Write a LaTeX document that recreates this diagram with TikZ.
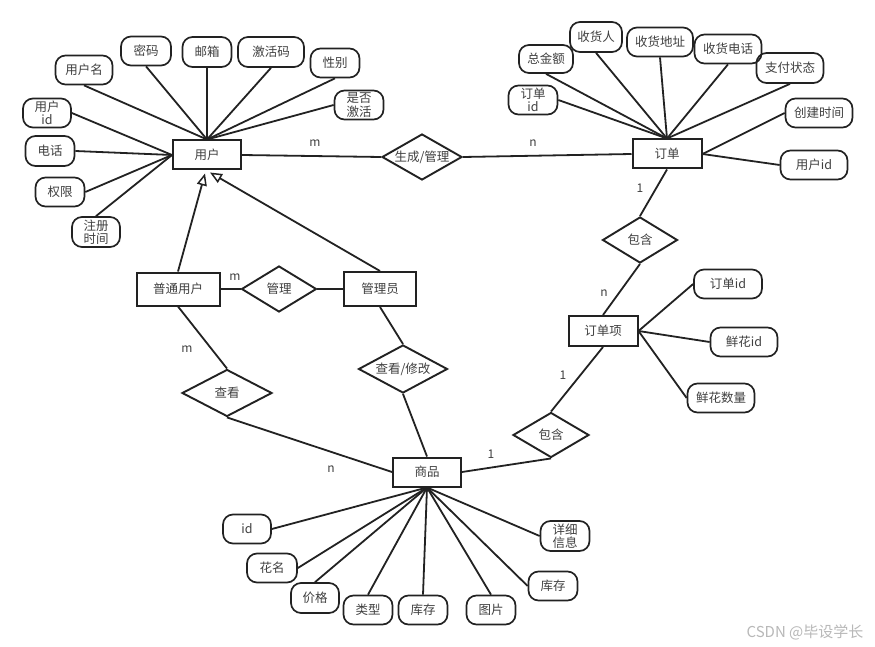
\documentclass[tikz,border=0pt]{standalone}
\usepackage{fontspec}
\setmainfont{Noto Sans CJK SC}
\usetikzlibrary{shapes.geometric,arrows.meta,calc}
\definecolor{ink}{HTML}{222222}
\definecolor{txtc}{HTML}{404040}
\definecolor{wm}{HTML}{B8B8B8}
\begin{document}
\begin{tikzpicture}[x=1pt,y=-1pt,
  every node/.style={font=\fontsize{12.5}{13.5}\selectfont, text=txtc, inner sep=0pt, align=center},
  ent/.style={draw=ink, line width=2pt, rectangle},
  attr/.style={draw=ink, line width=1.7pt, rectangle, rounded corners=10pt},
  reln/.style={draw=ink, line width=1.9pt, diamond},
  ln/.style={draw=ink, line width=1.8pt},
  card/.style={font=\fontsize{12}{13}\selectfont},
  inh/.style={ln, -{Triangle[open, length=12pt, width=10pt, line width=1.5pt]}}
]
\fill[white] (0,0) rectangle (875,647);
\useasboundingbox (0,0) rectangle (875,647);

% entities
\node[ent, minimum width=68pt, minimum height=29pt] (yh) at (207,155) {用户};
\node[ent, minimum width=69pt, minimum height=29pt] (dd) at (667,154) {订单};
\node[ent, minimum width=83pt, minimum height=33pt] (pt) at (178,289) {普通用户};
\node[ent, minimum width=72pt, minimum height=34pt] (gly) at (380,289) {管理员};
\node[ent, minimum width=68pt, minimum height=29pt] (sp) at (427,472) {商品};
\node[ent, minimum width=69pt, minimum height=30pt] (ddx) at (603,331) {订单项};

% relationships
\node[reln, minimum width=80pt, minimum height=46pt, label={center:生成/管理}] (r1) at (422,157) {};
\node[reln, minimum width=75pt, minimum height=46pt, label={center:管理}] (r2) at (279,289) {};
\node[reln, minimum width=90pt, minimum height=47pt, label={center:查看}] (r3) at (227,393) {};
\node[reln, minimum width=89pt, minimum height=48pt, label={center:查看/修改}] (r4) at (403,369) {};
\node[reln, minimum width=75pt, minimum height=46pt, label={center:包含}] (r5) at (640,240) {};
\node[reln, minimum width=76pt, minimum height=45pt, label={center:包含}] (r6) at (551,435) {};

% attributes of 用户
\node[attr, minimum width=57pt, minimum height=29pt] (a1) at (84,70) {用户名};
\node[attr, minimum width=50pt, minimum height=29pt] (a2) at (146,51) {密码};
\node[attr, minimum width=49pt, minimum height=30pt] (a3) at (207,52) {邮箱};
\node[attr, minimum width=66pt, minimum height=30pt] (a4) at (271,52) {激活码};
\node[attr, minimum width=49pt, minimum height=29pt] (a5) at (335,63) {性别};
\node[attr, minimum width=49pt, minimum height=29pt] (a6) at (359,105) {是否\\激活};
\node[attr, minimum width=48pt, minimum height=29pt] (a7) at (47,113) {用户\\id};
\node[attr, minimum width=49pt, minimum height=30pt] (a8) at (50,151) {电话};
\node[attr, minimum width=49pt, minimum height=29pt] (a9) at (60,192) {权限};
\node[attr, minimum width=48pt, minimum height=30pt] (a10) at (96,232) {注册\\时间};

% attributes of 订单
\node[attr, minimum width=49pt, minimum height=29pt] (b1) at (533,100) {订单\\id};
\node[attr, minimum width=54pt, minimum height=28pt] (b2) at (546,59) {总金额};
\node[attr, minimum width=52pt, minimum height=30pt] (b3) at (596,37) {收货人};
\node[attr, minimum width=66pt, minimum height=29pt] (b4) at (660,42) {收货地址};
\node[attr, minimum width=67pt, minimum height=29pt] (b5) at (728,49) {收货电话};
\node[attr, minimum width=67pt, minimum height=30pt] (b6) at (790,68) {支付状态};
\node[attr, minimum width=67pt, minimum height=29pt] (b7) at (819,113) {创建时间};
\node[attr, minimum width=67pt, minimum height=29pt] (b8) at (814,165) {用户id};

% attributes of 订单项
\node[attr, minimum width=68pt, minimum height=29pt] (c1) at (728,284) {订单id};
\node[attr, minimum width=67pt, minimum height=29pt] (c2) at (744,342) {鲜花id};
\node[attr, minimum width=67pt, minimum height=29pt] (c3) at (721,398) {鲜花数量};

% attributes of 商品
\node[attr, minimum width=48pt, minimum height=29pt] (d1) at (247,529) {id};
\node[attr, minimum width=50pt, minimum height=29pt] (d2) at (272,568) {花名};
\node[attr, minimum width=48pt, minimum height=30pt] (d3) at (315,598) {价格};
\node[attr, minimum width=49pt, minimum height=29pt] (d4) at (368,610) {类型};
\node[attr, minimum width=49pt, minimum height=29pt] (d5) at (423,610) {库存};
\node[attr, minimum width=49pt, minimum height=29pt] (d6) at (491,610) {图片};
\node[attr, minimum width=49pt, minimum height=29pt] (d7) at (553,586) {库存};
\node[attr, minimum width=49pt, minimum height=30pt] (d8) at (565,536) {详细\\信息};

% attribute connectors
\foreach \a in {a1,a2,a3,a4,a5} \draw[ln] (\a.south) -- (yh.north);
\draw[ln] (a6.west) -- (yh.north);
\foreach \a in {a7,a8,a9} \draw[ln] (\a.east) -- (yh.west);
\draw[ln] (a10.north) -- (yh.west);

\draw[ln] (b1.east) -- (dd.north);
\foreach \a in {b2,b3,b4,b5,b6} \draw[ln] (\a.south) -- (dd.north);
\foreach \a in {b7,b8} \draw[ln] (\a.west) -- (dd.east);

\foreach \a in {c1,c2,c3} \draw[ln] (\a.west) -- (ddx.east);

\foreach \a in {d1,d2} \draw[ln] (\a.east) -- (sp.south);
\foreach \a in {d3,d4,d5,d6} \draw[ln] (\a.north) -- (sp.south);
\foreach \a in {d7,d8} \draw[ln] (\a.west) -- (sp.south);

% relationship connectors
\draw[ln] (yh.east) -- (r1.west);
\draw[ln] (r1.east) -- (dd.west);
\draw[ln] (dd.south) -- (r5.north);
\draw[ln] (r5.south) -- (ddx.north);
\draw[ln] (ddx.south) -- (r6.north);
\draw[ln] (r6.south) -- (sp.east);
\draw[ln] (pt.east) -- (r2.west);
\draw[ln] (r2.east) -- (gly.west);
\draw[ln] (pt.south) -- (r3.north);
\draw[ln] (r3.south) -- (sp.west);
\draw[ln] (gly.south) -- (r4.north);
\draw[ln] (r4.south) -- (sp.north);

% inheritance
\coordinate (t1) at ($(yh.south)+(-2,3)$);
\coordinate (t2) at ($(yh.south)+(3,2)$);
\draw[inh] (pt.north) -- (t1);
\draw[inh] (gly.north) -- (t2);

% cardinalities
\node[card] (m1) at (315,143) {m};
\node[card] (n1) at (533,143) {n};
\node[card] (o1) at (640,188) {1};
\node[card] (n2) at (604,293) {n};
\node[card] (o2) at (563,375) {1};
\node[card] (o3) at (491,454) {1};
\node[card] (m2) at (235,277) {m};
\node[card] (m3) at (187,349) {m};
\node[card] (n3) at (331,469) {n};

% watermark
\node[font=\fontsize{15}{17}\selectfont, text=wm] (wmk) at (805,632) {CSDN @毕设学长};
\end{tikzpicture}
\end{document}
